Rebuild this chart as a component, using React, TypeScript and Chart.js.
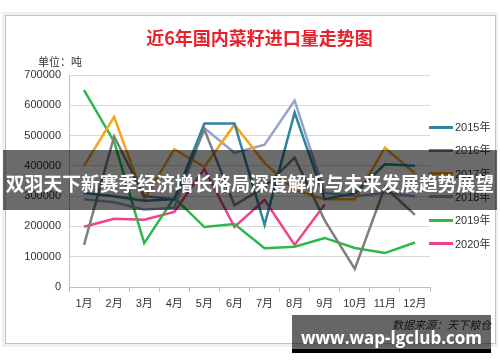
import React, { useEffect, useRef } from 'react';
import { Chart, registerables } from 'chart.js';

Chart.register(...registerables);

const months = ['1月', '2月', '3月', '4月', '5月', '6月', '7月', '8月', '9月', '10月', '11月', '12月'];
const years = ['2015年', '2016年', '2017年', '2018年', '2019年', '2020年'];
const yTicks = [0, 100000, 200000, 300000, 400000, 500000, 600000, 700000];

const s2015 = [310000, 300000, 285000, 290000, 540000, 540000, 205000, 576000, 290000, 310000, 405000, 400000];
const s2016 = [139000, 497000, 300000, 290000, 520000, 270000, 330000, 427000, 220000, 60000, 330000, 238000];
const s2017 = [400000, 562000, 290000, 455000, 397000, 536000, 410000, 320000, 290000, 290000, 460000, 375000];
const s2018 = [290000, 280000, 255000, 262000, 525000, 443000, 470000, 616000, 310000, 300000, 310000, 300000];
const s2019 = [650000, 480000, 145000, 295000, 198000, 208000, 128000, 133000, 162000, 129000, 112000, 147000];
const s2020 = [199000, 225000, 222000, 248000, 390000, 198000, 288000, 139000, 272000];

const series = [s2015, s2016, s2017, s2018, s2019, s2020];
const colors = ['#31859c', '#7f7f7f', '#f7a21b', '#93a3c9', '#2db84a', '#f0418c'];

const FONT = "'Liberation Sans', 'Noto Sans CJK SC', sans-serif";
const CJK = "'Noto Sans CJK SC', sans-serif";

export default function App() {
  const ref = useRef<HTMLCanvasElement>(null);

  useEffect(() => {
    const chart = new Chart(ref.current as HTMLCanvasElement, {
      type: 'line',
      data: {
        labels: months,
        datasets: series.map((d, i) => ({
          label: years[i],
          data: d,
          borderColor: colors[i],
          backgroundColor: colors[i],
          borderWidth: 2.5,
          pointRadius: 0,
          tension: 0,
          fill: false,
        })),
      },
      options: {
        responsive: false,
        animation: false,
        devicePixelRatio: 1,
        layout: { padding: { top: 75, right: 70, left: 0, bottom: 0 } },
        plugins: {
          legend: { display: false },
          tooltip: { enabled: false },
          title: { display: false },
        },
        scales: {
          x: {
            offset: true,
            grid: { offset: true, drawOnChartArea: false, drawTicks: true, tickLength: 5, color: '#bfbfbf' },
            border: { color: '#bfbfbf' },
            ticks: { font: { family: FONT, size: 11 }, color: '#333', padding: 5, maxRotation: 0, autoSkip: false },
            afterFit: (a: any) => { a.height = 75; },
          },
          y: {
            min: yTicks[0],
            max: yTicks[yTicks.length - 1],
            afterBuildTicks: (a: any) => { a.ticks = yTicks.map((v) => ({ value: v })); },
            ticks: { font: { family: FONT, size: 11 }, color: '#333', padding: 8, callback: (v: any) => String(v) },
            grid: { color: '#d9d9d9', drawTicks: false },
            border: { color: '#bfbfbf' },
            afterFit: (a: any) => { a.width = 69; },
          },
        },
      },
    } as any);
    return () => chart.destroy();
  }, []);

  const abs = (s: React.CSSProperties): React.CSSProperties => ({ position: 'absolute', ...s });

  return (
    <div style={abs({ left: 0, top: 0, width: 500, height: 362, background: '#fff', overflow: 'hidden' })}>
      <div style={abs({ left: 2, top: 12, width: 496, height: 335, background: '#eef0f4' })} />
      <div style={abs({ left: 5, top: 15, width: 491, height: 329, boxSizing: 'border-box', background: '#fff', border: '1px solid #c4c4c4' })} />
      <canvas ref={ref} width={500} height={362} style={abs({ left: 0, top: 0, width: 500, height: 362 })} />
      <div style={abs({ left: 0, top: 27, width: 519, height: 20, lineHeight: '20px', textAlign: 'center', color: '#e8212b', fontFamily: CJK, fontWeight: 700, fontSize: 18 })}>
        近6年国内菜籽进口量走势图
      </div>
      <div style={abs({ left: 38, top: 54, height: 14, lineHeight: '14px', color: '#333', fontFamily: CJK, fontSize: 11 })}>
        单位：吨
      </div>
      {years.map((y, i) => (
        <React.Fragment key={y}>
          <div style={abs({ left: 429, top: 127 + i * 23.3 - 1.5, width: 24, height: 3, background: colors[i] })} />
          <div style={abs({ left: 455, top: 127 + i * 23.3 - 7, height: 14, lineHeight: '14px', color: '#333', fontFamily: FONT, fontSize: 11 })}>{y}</div>
        </React.Fragment>
      ))}
      <div style={abs({ left: 392, top: 317, height: 14, lineHeight: '14px', color: '#333', fontFamily: CJK, fontSize: 11, fontStyle: 'italic' })}>
        数据来源：天下粮仓
      </div>
      <div style={abs({ left: 3, top: 150, width: 494, height: 60, background: 'rgba(0,0,0,0.58)' })} />
      <div style={abs({ left: 0, top: 171, width: 500, height: 24, lineHeight: '24px', textAlign: 'center', color: '#fff', fontFamily: CJK, fontWeight: 700, fontSize: 18.8, whiteSpace: 'nowrap' })}>
        双羽天下新赛季经济增长格局深度解析与未来发展趋势展望
      </div>
      <div style={abs({ left: 292, top: 315, width: 199, height: 34, background: 'rgba(0,0,0,0.6)' })} />
      <div style={abs({ left: 292, top: 349, width: 199, height: 4, background: '#000' })} />
      <div style={abs({ left: 292, top: 326, width: 199, height: 24, lineHeight: '24px', textAlign: 'center', color: '#fff', fontFamily: "'Open Sans', sans-serif", fontWeight: 700, fontSize: 17, whiteSpace: 'nowrap' })}>
        www.wap-lgclub.com
      </div>
    </div>
  );
}
